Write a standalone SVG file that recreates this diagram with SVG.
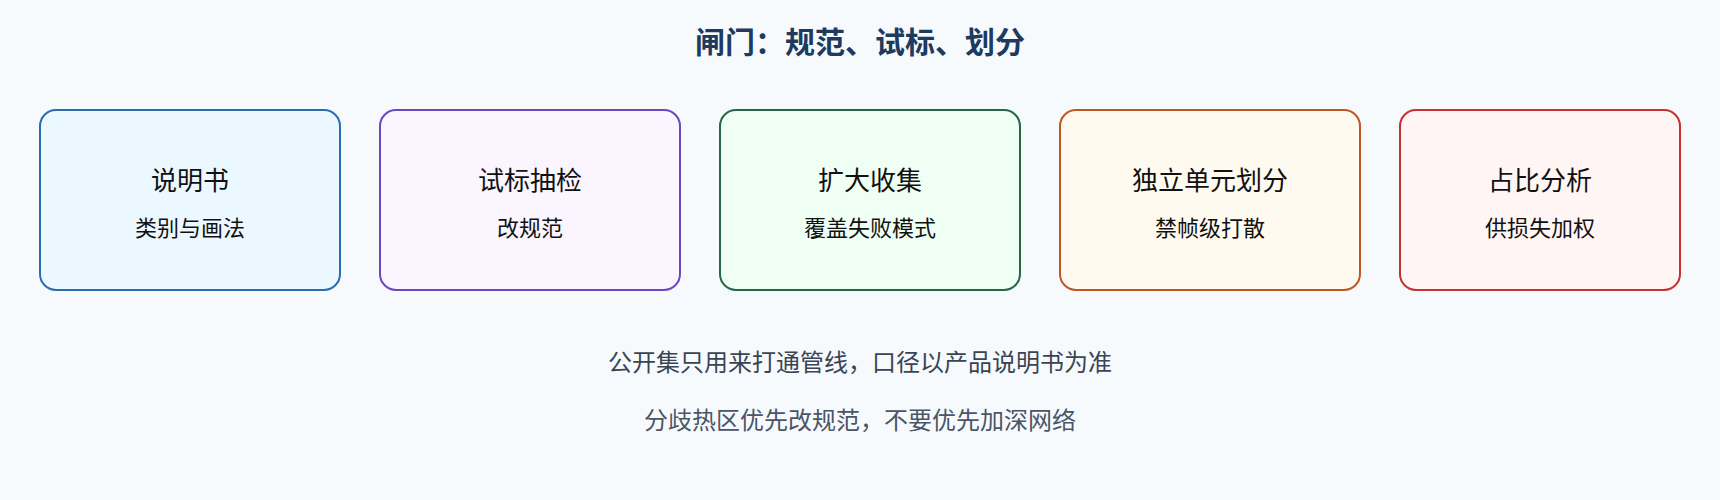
<svg xmlns="http://www.w3.org/2000/svg" width="1720" height="500" viewBox="0 0 1720 500">
<style>
text{font-family:"Noto Sans CJK SC","Noto Sans",sans-serif;text-anchor:middle}
.title{font-size:30px;font-weight:bold;fill:#1e3a5f}
.nt{font-size:26px;fill:#111}
.ns{font-size:22px;fill:#111}
.box{stroke-width:2}
.n1{fill:#3a4454;font-size:24px}
.n2{fill:#4a5568;font-size:24px}
</style>
<rect width="1720" height="500" fill="#f7fafc"/>
<text class="title" x="860" y="53">闸门：规范、试标、划分</text>
<g id="node1"><rect class="box" x="40" y="110" width="300" height="180" rx="16" fill="#ebf8ff" stroke="#2b6cb0"/><text class="nt" x="190" y="190">说明书</text><text class="ns" x="190" y="236">类别与画法</text></g>
<g id="node2"><rect class="box" x="380" y="110" width="300" height="180" rx="16" fill="#faf5ff" stroke="#6b46c1"/><text class="nt" x="530" y="190">试标抽检</text><text class="ns" x="530" y="236">改规范</text></g>
<g id="node3"><rect class="box" x="720" y="110" width="300" height="180" rx="16" fill="#f0fff4" stroke="#276749"/><text class="nt" x="870" y="190">扩大收集</text><text class="ns" x="870" y="236">覆盖失败模式</text></g>
<g id="node4"><rect class="box" x="1060" y="110" width="300" height="180" rx="16" fill="#fffaf0" stroke="#c05621"/><text class="nt" x="1210" y="190">独立单元划分</text><text class="ns" x="1210" y="236">禁帧级打散</text></g>
<g id="node5"><rect class="box" x="1400" y="110" width="280" height="180" rx="16" fill="#fff5f5" stroke="#c53030"/><text class="nt" x="1540" y="190">占比分析</text><text class="ns" x="1540" y="236">供损失加权</text></g>
<g id="connectors"></g>
<text class="n1" x="860" y="371">公开集只用来打通管线，口径以产品说明书为准</text>
<text class="n2" x="860" y="429">分歧热区优先改规范，不要优先加深网络</text>
</svg>
